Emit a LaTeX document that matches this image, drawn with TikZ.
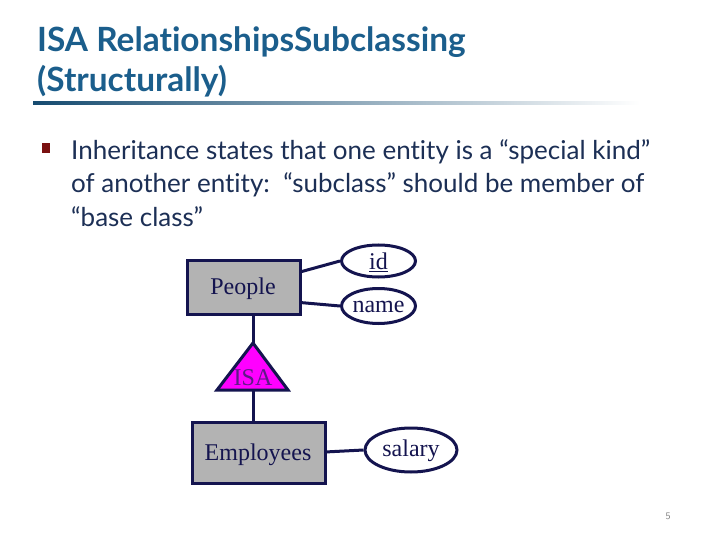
\documentclass[tikz,border=0pt]{standalone}
\usepackage{fontspec}
\setmainfont{Liberation Serif}
\newfontfamily\gillish[Ligatures=NoCommon]{Lato}
\usetikzlibrary{shapes.geometric}
\definecolor{titleblue}{HTML}{1B5E8C}
\definecolor{bodynavy}{HTML}{1C2F55}
\definecolor{ernavy}{HTML}{14144F}
\definecolor{ergray}{HTML}{B3B3B3}
\definecolor{bulletred}{HTML}{7A1010}
\definecolor{isapurple}{HTML}{5E1A86}
\definecolor{isamagenta}{HTML}{FF00FF}
\tikzset{
  entitybox/.style={draw=ernavy, line width=3pt, fill=ergray},
  attrell/.style={draw=ernavy, line width=3pt, fill=white},
  erline/.style={draw=ernavy, line width=3pt},
  erlabel/.style={text=ernavy, font=\fontsize{24}{26}\selectfont, inner sep=0pt},
  titletext/.style={text=titleblue, font=\gillish\bfseries\fontsize{33.4}{36}\selectfont, anchor=base west, inner sep=0pt},
  bodytext/.style={text=bodynavy, font=\gillish\fontsize{26}{28}\selectfont, anchor=base west, inner sep=0pt},
}
\begin{document}
\begin{tikzpicture}[x=1pt,y=-1pt]
\useasboundingbox (0,0) rectangle (720,540);
\fill[white] (0,0) rectangle (720,540);
% title
\node[titletext] (t1) at (37,52) {ISA RelationshipsSubclassing};
\node[titletext] (t2) at (37,92) {(Structurally)};
\shade[left color=titleblue!80!black, right color=white] (33,101.5) rectangle (640,105);
% bullet
\fill[bulletred] (42,143) rectangle (50,153);
\node[bodytext] (b1) at (71,160) {Inheritance states that one entity is a “special kind”};
\node[bodytext] (b2) at (71,193) {of another entity:\ \ “subclass” should be member of};
\node[bodytext] (b3) at (71,226) {“base class”};
% ER diagram
\draw[entitybox] (187,260) rectangle (300,314);
\node[erlabel] (people) at (243,289) {People};
\coordinate (pr1) at (300,272);
\coordinate (pr2) at (300,302.5);
\coordinate (pb) at (253,314);
\node[attrell, ellipse, minimum width=74pt, minimum height=32pt, inner sep=0pt] (id) at (378.5,261) {};
\node[erlabel] at (378.5,262) {\underline{id}};
\node[attrell, ellipse, minimum width=74pt, minimum height=35pt, inner sep=0pt] (name) at (378.5,306) {};
\node[erlabel] at (378.5,307) {name};
\draw[erline] (pr1) -- (id.west);
\draw[erline] (pr2) -- (name.west);
% ISA triangle
\coordinate (apex) at (253,343);
\coordinate (bl) at (217,390);
\coordinate (br) at (288,390);
\coordinate (bc) at (253,390);
\draw[draw=ernavy, line width=3pt, fill=isamagenta, line join=miter] (apex) -- (bl) -- (br) -- cycle;
\node[erlabel, text=isapurple] (isa) at (253,378) {ISA};
\draw[erline] (pb) -- (apex);
% Employees
\draw[entitybox] (192,422) rectangle (325,483);
\node[erlabel] (emp) at (258,455) {Employees};
\coordinate (et) at (253,422);
\coordinate (er) at (325,452);
\draw[erline] (bc) -- (et);
\node[attrell, ellipse, minimum width=92pt, minimum height=44pt, inner sep=0pt] (salary) at (411,450) {};
\node[erlabel] at (411,451) {salary};
\draw[erline] (er) -- (salary.west);
% page number
\node[text=gray, font=\sffamily\fontsize{10}{12}\selectfont, inner sep=0pt] (pg) at (668,516) {5};
\end{tikzpicture}
\end{document}
